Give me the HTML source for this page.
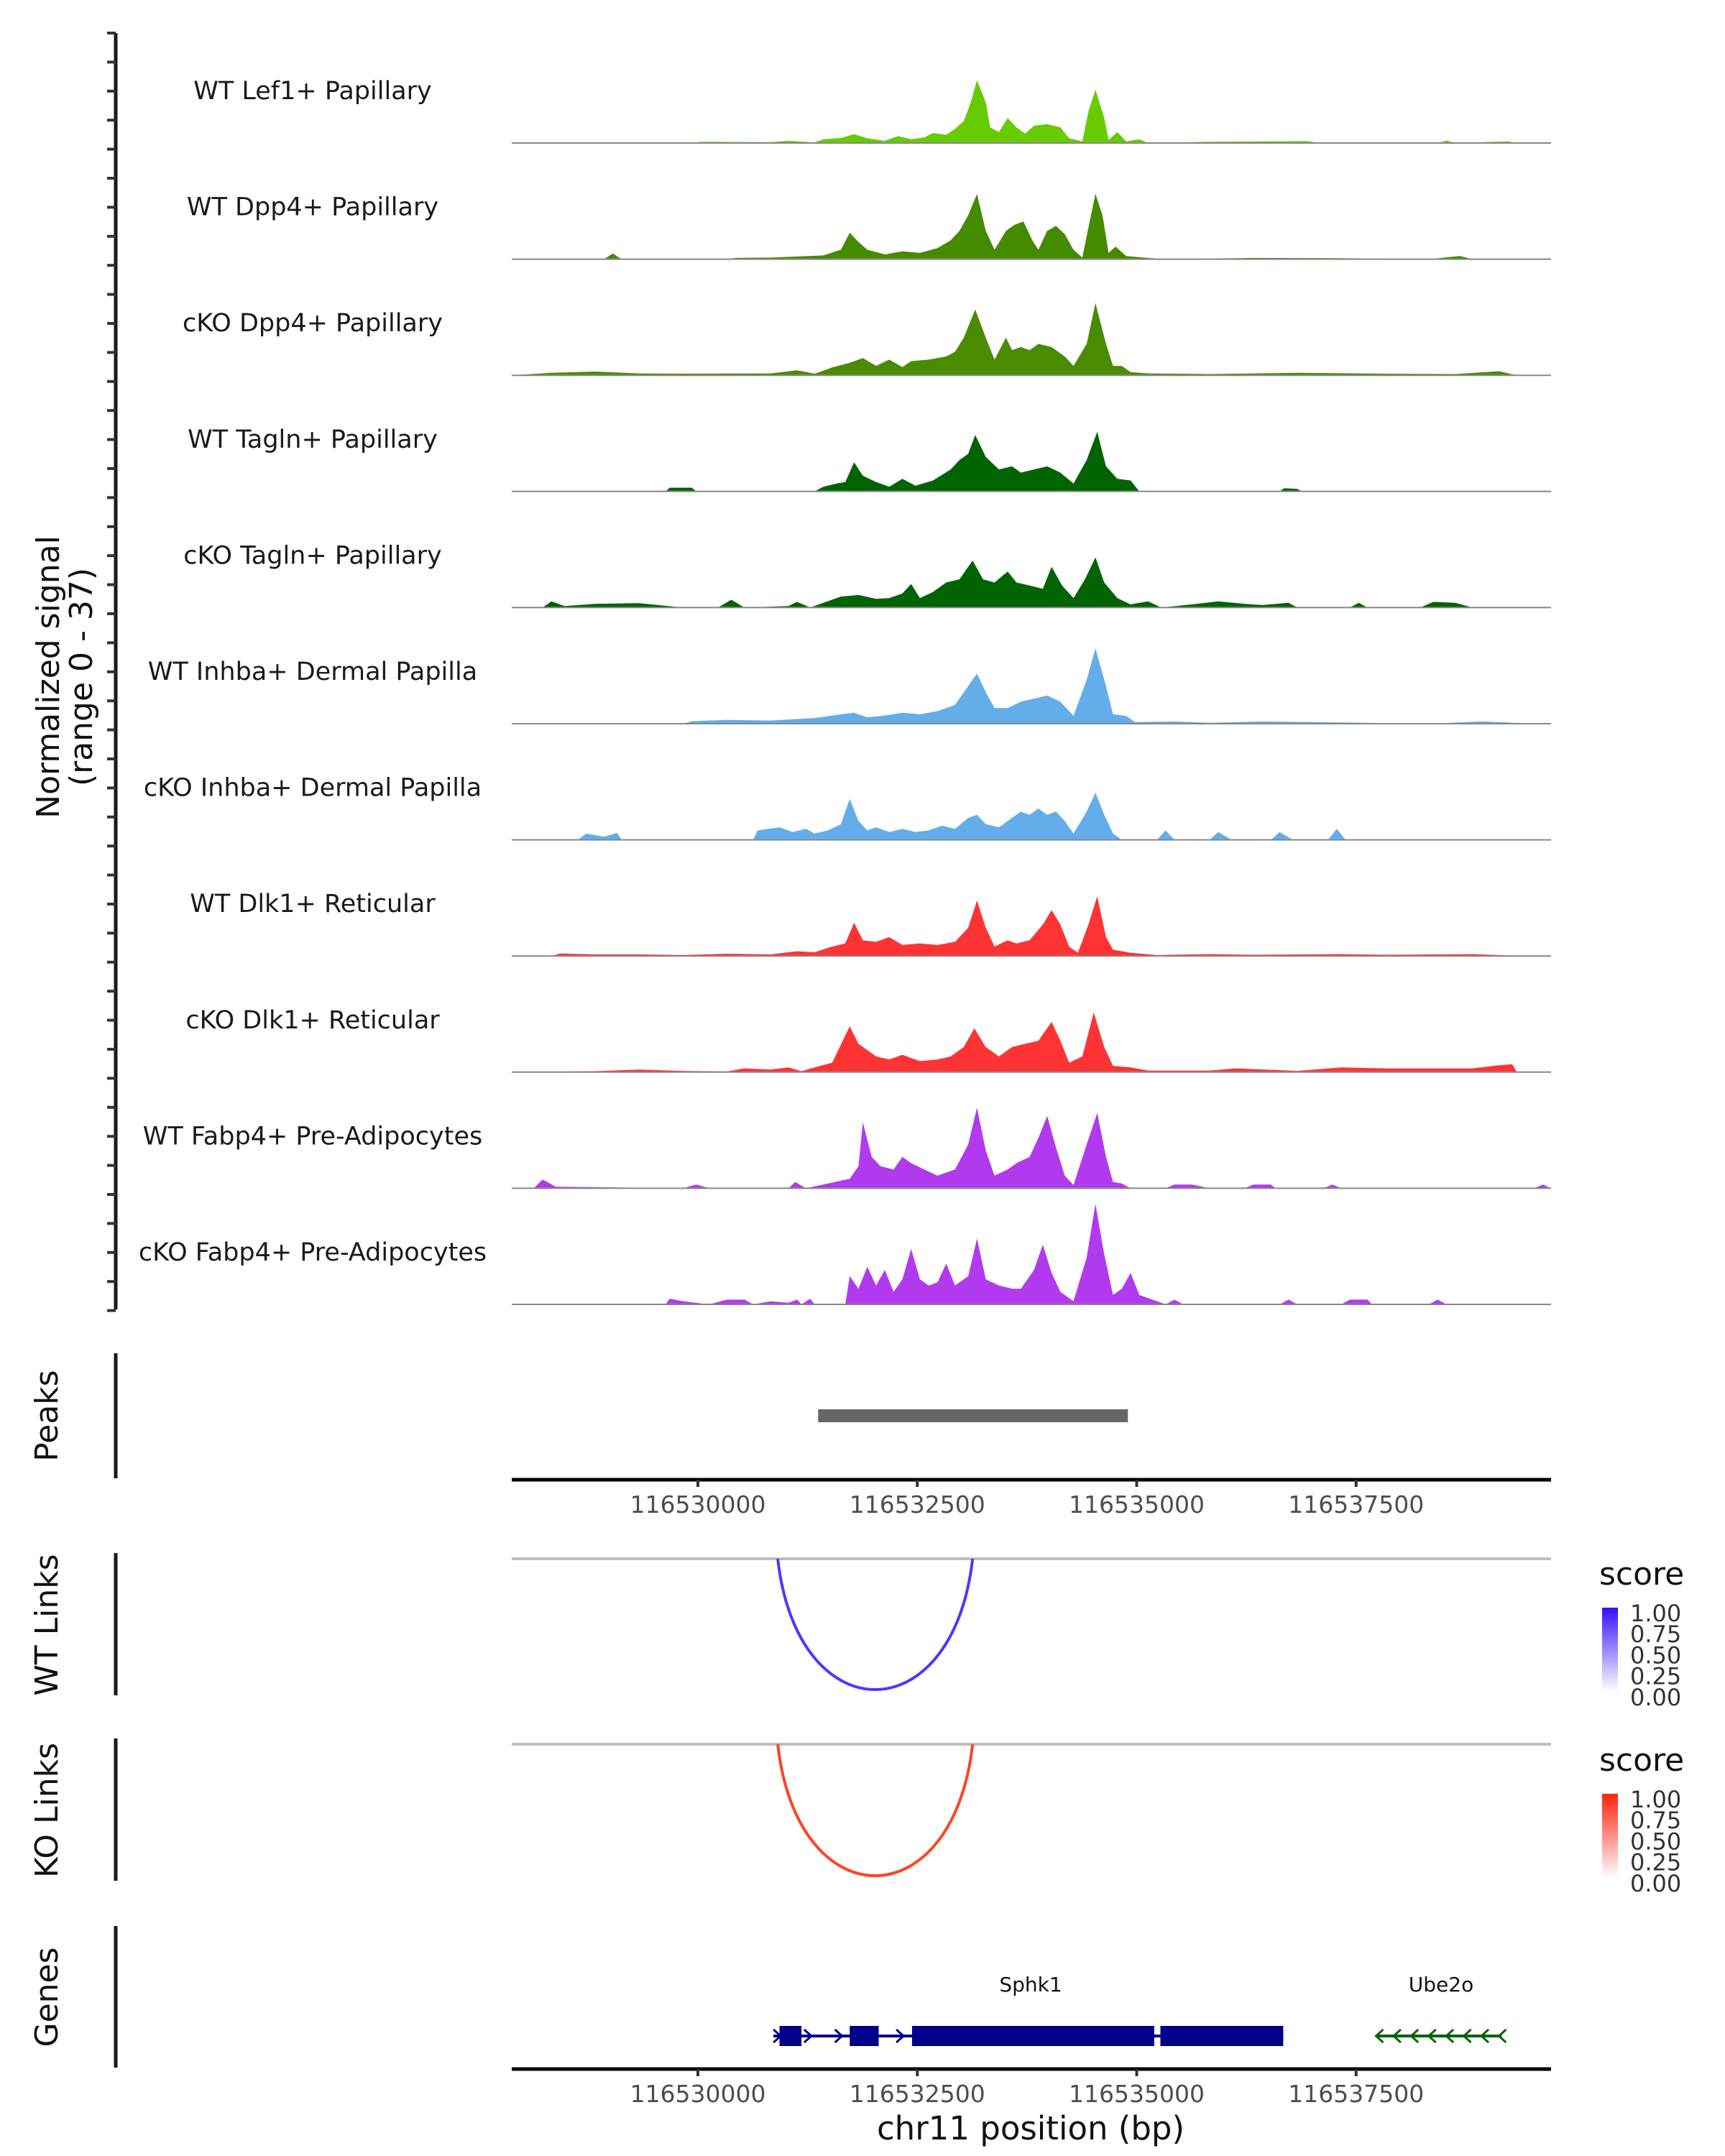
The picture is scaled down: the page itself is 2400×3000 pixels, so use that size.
<!DOCTYPE html>
<html><head><meta charset="utf-8"><style>
html,body{margin:0;padding:0;background:#fff}
svg{display:block}
text{font-family:"DejaVu Sans","Liberation Sans",sans-serif}
</style></head><body>
<svg id="chart" width="2400" height="3000" viewBox="0 0 2400 3000" xmlns="http://www.w3.org/2000/svg">
<defs>
<linearGradient id="gWT" x1="0" y1="1" x2="0" y2="0"><stop offset="0" stop-color="#ffffff"/><stop offset="1" stop-color="#3311ff"/></linearGradient>
<linearGradient id="gKO" x1="0" y1="1" x2="0" y2="0"><stop offset="0" stop-color="#ffffff"/><stop offset="1" stop-color="#ff2211"/></linearGradient>
</defs>
<g id="tracks"></g>
<g id="lower"></g>
</svg>
<script>
// ===== data (positions in kb offset from 116,530,000; signal values 0-37) =====
const trackNames = ["WT Lef1+ Papillary","WT Dpp4+ Papillary","cKO Dpp4+ Papillary","WT Tagln+ Papillary","cKO Tagln+ Papillary","WT Inhba+ Dermal Papilla","cKO Inhba+ Dermal Papilla","WT Dlk1+ Reticular","cKO Dlk1+ Reticular","WT Fabp4+ Pre-Adipocytes","cKO Fabp4+ Pre-Adipocytes"];
const trackColors = ["#66cc00","#458b00","#4a8c00","#006400","#006400","#63aeea","#63aeea","#ff3333","#ff3333","#b23aee","#b23aee"];
const sigMax = 37;
const t0 = [[-2.17,0],[-0.07,0],[0.03,0.4],[0.83,0.3],[1.03,0.7],[1.33,0.2],[1.43,1.2],[1.63,1.6],[1.78,2.8],[1.93,1.5],[2.13,0.7],[2.28,2.2],[2.43,1.2],[2.58,1.8],[2.68,3.2],[2.83,2.6],[2.93,4.5],[3.03,7],[3.11,13],[3.18,20],[3.28,13],[3.33,5],[3.43,3.5],[3.53,8],[3.63,5],[3.73,3],[3.83,5.5],[3.98,6],[4.13,5],[4.23,1.5],[4.38,0.5],[4.45,10],[4.53,17],[4.63,8],[4.68,1],[4.78,3.5],[4.88,0.5],[5.03,1.2],[5.13,0],[5.83,0.4],[6.93,0.6],[7.13,0],[8.43,0],[8.53,0.8],[8.63,0],[9.23,0.5],[9.33,0]];
const t1 = [[-2.17,0],[-1.07,0],[-0.97,1.8],[-0.87,0],[0.33,0],[0.43,0.4],[0.83,0.5],[1.43,1.2],[1.63,3],[1.73,8.4],[1.83,5.5],[1.93,3],[2.13,1.5],[2.33,2.5],[2.53,2],[2.73,3.5],[2.88,6],[2.98,9],[3.08,14],[3.18,20.8],[3.28,9],[3.38,3],[3.51,9],[3.61,11],[3.71,12],[3.81,6],[3.88,3],[3.98,9],[4.08,10.6],[4.18,8],[4.28,3],[4.38,0.5],[4.45,10],[4.53,20.8],[4.61,14],[4.68,2],[4.76,4],[4.88,1],[5.13,0.4],[5.33,0],[6.33,0.4],[7.33,0.3],[8.33,0],[8.68,1],[8.83,0]];
const t2 = [[-2.17,0],[-1.67,0.8],[-1.17,1.2],[-0.67,0.6],[-0.17,0.5],[0.83,0.6],[1.13,1.6],[1.33,0.5],[1.53,2.5],[1.73,4],[1.88,5.5],[2.03,3],[2.18,5],[2.33,2.6],[2.43,4.5],[2.63,5],[2.83,6],[2.93,7.5],[3.03,12],[3.16,21],[3.28,12],[3.38,5],[3.51,12],[3.58,8],[3.68,9],[3.78,8],[3.88,10],[4.03,9],[4.18,6],[4.28,3],[4.43,10],[4.53,23],[4.65,10],[4.73,3],[4.83,3],[4.93,1],[5.13,0.6],[5.83,0.4],[6.83,0.8],[7.83,0.5],[8.63,0.4],[9.13,1.3],[9.33,0]];
const t3 = [[-2.17,0],[-0.37,0],[-0.32,1.2],[-0.07,1.2],[-0.02,0],[1.33,0],[1.43,1.5],[1.58,2.5],[1.68,3],[1.78,9.3],[1.88,5],[2.03,3],[2.18,1.5],[2.33,4],[2.48,1.8],[2.68,3.5],[2.88,7],[2.98,10],[3.08,12],[3.16,18],[3.28,11],[3.43,7],[3.58,8],[3.68,6],[3.83,7],[3.98,8],[4.13,6],[4.28,2.5],[4.43,10],[4.55,19],[4.65,8],[4.78,4],[4.93,3.5],[5.03,0],[6.63,0],[6.68,1],[6.83,0.8],[6.88,0]];
const t4 = [[-2.17,0],[-1.77,0],[-1.67,2],[-1.52,0.5],[-1.17,1.2],[-0.67,1.4],[-0.17,0],[0.23,0],[0.38,2.5],[0.53,0],[1.03,0.5],[1.13,1.8],[1.28,0],[1.43,1.5],[1.63,3.5],[1.83,4],[2.03,2.8],[2.18,3],[2.33,4.5],[2.43,7.5],[2.53,3],[2.68,5],[2.83,8],[2.98,9],[3.13,15],[3.25,9],[3.38,8],[3.53,11.5],[3.63,8],[3.78,7],[3.93,6],[4.03,13],[4.15,7],[4.28,3],[4.41,9],[4.53,16],[4.63,8],[4.78,3],[4.93,1],[5.13,2],[5.28,0],[5.63,1],[5.93,2],[6.23,1.2],[6.43,0.8],[6.73,1.5],[6.83,0],[7.43,0],[7.53,1.5],[7.63,0],[8.23,0],[8.38,1.8],[8.63,1.5],[8.83,0]];
const t5 = [[-2.17,0],[-0.17,0],[-0.07,0.8],[0.33,1.2],[0.83,1],[1.33,1.8],[1.63,3],[1.78,3.5],[1.93,2],[2.13,2.6],[2.33,3.5],[2.53,3],[2.73,4],[2.93,6],[3.03,10],[3.18,16],[3.28,10],[3.38,5],[3.53,5],[3.68,7],[3.83,8],[3.98,9],[4.13,7],[4.28,2.5],[4.43,14],[4.53,24],[4.65,12],[4.73,3],[4.88,2.5],[4.98,0.5],[5.43,0.7],[5.83,0.3],[6.43,0.7],[7.33,0.4],[8.33,0],[8.93,0.7],[9.23,0.4],[9.43,0]];
const t6 = [[-2.17,0],[-1.37,0],[-1.27,2],[-1.07,1],[-0.92,2.2],[-0.87,0],[0.63,0],[0.68,3],[0.93,4],[1.08,2.5],[1.23,3.5],[1.33,2],[1.48,3],[1.63,5],[1.73,13],[1.83,6],[1.93,3],[2.03,4],[2.18,2.5],[2.33,3.5],[2.48,2.5],[2.63,3],[2.78,4.5],[2.93,3.5],[3.08,7],[3.18,8],[3.28,5],[3.43,4],[3.58,7],[3.68,9],[3.78,8],[3.88,10],[3.98,8],[4.08,9],[4.18,6],[4.28,2],[4.43,9],[4.53,15],[4.63,8],[4.73,2],[4.83,0],[5.23,0],[5.33,3],[5.43,0],[5.83,0],[5.93,2.5],[6.08,0],[6.53,0],[6.63,2.5],[6.78,0],[7.18,0],[7.28,3.5],[7.38,0],[9.83,0]];
const t7 = [[-2.17,0],[-1.67,0],[-1.57,0.8],[-1.17,0.5],[-0.67,0.5],[-0.17,0.3],[0.33,0.7],[0.83,0.5],[1.13,1.5],[1.33,1.2],[1.53,3],[1.68,4],[1.78,10.6],[1.88,5],[2.03,4.5],[2.18,6],[2.33,3.5],[2.53,4],[2.73,3.5],[2.93,4.5],[3.08,9],[3.18,17.7],[3.28,9],[3.38,3],[3.53,5],[3.63,4],[3.78,5],[3.93,10],[4.03,14.6],[4.13,10],[4.23,3],[4.33,1],[4.45,10],[4.55,19],[4.65,6],[4.73,2],[4.93,1],[5.23,0.3],[5.83,0.6],[6.33,0.4],[7.33,0.6],[7.83,0.4],[8.83,0.6],[9.43,0]];
const t8 = [[-2.17,0],[-1.17,0.3],[-0.67,0.8],[-0.17,0.4],[0.33,0.2],[0.53,1.2],[0.83,0.8],[1.03,1.5],[1.18,0.3],[1.33,1.5],[1.53,3],[1.73,14.6],[1.83,9],[1.93,7],[2.03,5],[2.18,4],[2.33,5.5],[2.53,3.5],[2.73,4],[2.88,5],[3.03,8],[3.15,14],[3.28,8],[3.43,5],[3.58,8],[3.73,9],[3.88,10],[4.03,16],[4.13,10],[4.23,3],[4.38,5],[4.51,19],[4.63,8],[4.73,2],[4.93,1.5],[5.13,0.5],[5.83,0.5],[6.13,1.2],[6.83,0.4],[7.33,1.5],[7.83,1.2],[8.33,1.2],[8.83,1.2],[9.13,2.2],[9.28,2.5],[9.33,0]];
const t9 = [[-2.17,0],[-1.87,0],[-1.77,2.8],[-1.62,0.5],[-0.17,0],[-0.02,1.2],[0.13,0],[1.03,0],[1.11,2],[1.23,0],[1.73,3],[1.83,7],[1.88,21],[1.98,10],[2.08,7],[2.23,6],[2.33,10],[2.43,8],[2.58,6],[2.73,4],[2.93,6],[3.08,14],[3.18,25.7],[3.28,12],[3.38,4],[3.53,6],[3.63,8],[3.78,10],[3.88,16],[3.98,23],[4.08,13],[4.18,4],[4.28,1],[4.43,14],[4.55,24],[4.65,10],[4.73,2],[4.83,1.5],[4.93,0],[5.33,0],[5.43,1.2],[5.63,1.2],[5.83,0],[6.23,0],[6.33,1.2],[6.53,1.2],[6.58,0],[7.13,0],[7.23,1.2],[7.33,0],[9.53,0],[9.63,1.2],[9.73,0]];
const t10 = [[-2.17,0],[-0.37,0],[-0.32,1.8],[-0.17,1],[0.13,0],[0.33,1.5],[0.53,1.5],[0.63,0],[0.83,1],[1.03,0.5],[1.13,1.5],[1.18,0],[1.28,1.8],[1.33,0],[1.68,0],[1.73,9],[1.83,5],[1.93,12],[2.03,6],[2.13,11],[2.23,4],[2.33,8],[2.43,17.7],[2.53,8],[2.63,6],[2.73,7],[2.83,13],[2.93,6],[3.08,9],[3.18,21],[3.28,8],[3.43,6],[3.58,5],[3.68,5],[3.83,11],[3.93,19],[4.03,10],[4.13,4],[4.28,1],[4.43,15],[4.53,32],[4.63,16],[4.73,3],[4.83,5],[4.93,10],[5.03,3],[5.13,2],[5.23,1],[5.33,0],[5.43,1.5],[5.53,0],[6.63,0],[6.73,1.5],[6.83,0],[7.33,0],[7.43,1.5],[7.63,1.5],[7.68,0],[8.33,0],[8.43,1.5],[8.53,0],[9.83,0]];
const allTracks = [t0,t1,t2,t3,t4,t5,t6,t7,t8,t9,t10];
const xTicks = [0, 2.5, 5.0, 7.5];
const xTickLabels = ["116530000","116532500","116535000","116537500"];
const peakStarts = [1.37];
const peakEnds = [4.90];
const wtLinkStart = [0.91], wtLinkEnd = [3.13], wtLinkScore = [0.85];
const koLinkStart = [0.91], koLinkEnd = [3.13], koLinkScore = [0.85];
const legendTicks = ["1.00","0.75","0.50","0.25","0.00"];
const sphk1Exons = [[0.93,1.18],[1.73,2.06],[2.44,5.20],[5.27,6.67]];
const sphk1Span = [0.86, 6.67];
const ube2oSpan = [7.74, 9.16];

// ===== scales =====
const NS="http://www.w3.org/2000/svg";
const X0=712, X1=2158;
const xs = kb => 971 + kb*122.1;
const baseY = i => 199 + i*161.6;
const ys = (i,v) => baseY(i) - v*(161.6/sigMax);
function el(tag, attrs, parent, text){const e=document.createElementNS(NS,tag);for(const k in attrs)e.setAttribute(k,attrs[k]);if(text!==undefined)e.textContent=text;parent.appendChild(e);return e;}

const tg=document.getElementById('tracks');
let ax=el('line',{x1:161,y1:46,x2:161,y2:1822,stroke:'#1a1a1a','stroke-width':5},tg);


for(let k=0;k<=44;k++){
  const y=46+k*40.4;
  let t=el('line',{x1:149,y1:y,x2:161,y2:y,stroke:'#333','stroke-width':4},tg);
  
  
}
let yt=el('text',{transform:'translate(82,942) rotate(-90)','text-anchor':'middle','font-size':44,fill:'#111'},tg,'Normalized signal');


let yt2=el('text',{transform:'translate(128,942) rotate(-90)','text-anchor':'middle','font-size':44,fill:'#111'},tg,'(range 0 - 37)');



allTracks.forEach((tr,i)=>{
  const cx = v => Math.min(X1,Math.max(X0,xs(v)));
  let pts=[[cx(tr[0][0]),baseY(i)]];
  tr.forEach(p=>{pts.push([cx(p[0]),ys(i,p[1])]);});
  pts.push([cx(tr[tr.length-1][0]),baseY(i)]);
  let a=el('polygon',{points:pts.map(p=>p[0].toFixed(1)+','+p[1].toFixed(1)).join(' '),fill:trackColors[i]},tg);
  
  
  let b=el('line',{x1:X0,y1:baseY(i),x2:X1,y2:baseY(i),stroke:'#888','stroke-width':2},tg);
  
  
  let l=el('text',{x:435,y:baseY(i)-71,'text-anchor':'middle','dominant-baseline':'middle','font-size':35,fill:'#1a1a1a'},tg,trackNames[i]);
  
  
});

const lg=document.getElementById('lower');
function vAxis(y1,y2,label,cy,name){
  let l=el('line',{x1:161,y1:y1,x2:161,y2:y2,stroke:'#1a1a1a','stroke-width':5},lg);
  
  
  let t=el('text',{transform:`translate(80,${cy}) rotate(-90)`,'text-anchor':'middle','font-size':44,fill:'#111'},lg,label);
  
  
}
function xAxis(y,name){
  let l=el('line',{x1:X0,y1:y,x2:X1,y2:y,stroke:'#000','stroke-width':5},lg);
  
  
  xTicks.forEach((v,j)=>{
    let t=el('line',{x1:xs(v),y1:y,x2:xs(v),y2:y+10,stroke:'#333','stroke-width':4},lg);
    
    
    let tx=el('text',{x:xs(v),y:y+46,'text-anchor':'middle','font-size':33,fill:'#4d4d4d'},lg,xTickLabels[j]);
    
    
  });
}
vAxis(1883,2057,'Peaks',1970,'peaks');
peakStarts.forEach((s,j)=>{
  let r=el('rect',{x:xs(s),y:1961,width:xs(peakEnds[j])-xs(s),height:18,fill:'#666'},lg);
  
  
});
xAxis(2059,'peaks');

function links(name,gy,depth,starts,ends,scores,col,grad,legY){
  vAxis(gy-8,gy+190,name==='wt'?'WT Links':'KO Links',gy+92,name+'-links');
  let g=el('line',{x1:X0,y1:gy,x2:X1,y2:gy,stroke:'#bdbdbd','stroke-width':4},lg);
  
  
  starts.forEach((s,j)=>{
    const a=xs(s), b=xs(ends[j]), w=b-a;
    const c=gy+depth/0.75;
    let p=el('path',{d:`M${a},${gy} C${a+w*0.1},${c} ${b-w*0.1},${c} ${b},${gy}`,fill:'none',stroke:col,'stroke-width':4},lg);
    
    
  });
  let st=el('text',{x:2225,y:legY,'font-size':44,fill:'#111'},lg,'score');
  
  
  let cb=el('rect',{x:2229,y:legY+32,width:22,height:117,fill:`url(#${grad})`},lg);
  
  
  legendTicks.forEach((t,j)=>{
    let tx=el('text',{x:2268,y:legY+42+j*29.2,'font-size':32,fill:'#333','dominant-baseline':'middle'},lg,t);
    
    
  });
}
links('wt',2169,182,wtLinkStart,wtLinkEnd,wtLinkScore,'#5533ff','gWT',2205);
links('ko',2427,183,koLinkStart,koLinkEnd,koLinkScore,'#ff4422','gKO',2464);

vAxis(2680,2877,'Genes',2779,'genes');
const gy=2833;
let gl=el('line',{x1:xs(sphk1Span[0]),y1:gy,x2:xs(sphk1Span[1]),y2:gy,stroke:'#00008b','stroke-width':4},lg);


for(let k=sphk1Span[0]+0.05;k<sphk1Span[1];k+=0.35){
  let ar=el('path',{d:`M${xs(k)-6},${gy-9} L${xs(k)+4},${gy} L${xs(k)-6},${gy+9}`,fill:'none',stroke:'#00008b','stroke-width':3},lg);
  
  
}
sphk1Exons.forEach(e=>{
  let r=el('rect',{x:xs(e[0]),y:gy-14,width:xs(e[1])-xs(e[0]),height:28,fill:'#00008b'},lg);
  
  
});
let sl=el('text',{x:1434,y:2771,'text-anchor':'middle','font-size':28,fill:'#111'},lg,'Sphk1');


let ul=el('line',{x1:xs(ube2oSpan[0]),y1:gy,x2:xs(ube2oSpan[1]),y2:gy,stroke:'#006400','stroke-width':4},lg);


for(let k=ube2oSpan[0]+0.02;k<ube2oSpan[1];k+=0.2){
  let ar=el('path',{d:`M${xs(k)+6},${gy-9} L${xs(k)-4},${gy} L${xs(k)+6},${gy+9}`,fill:'none',stroke:'#006400','stroke-width':3},lg);
  
  
}
let ubl=el('text',{x:2005,y:2771,'text-anchor':'middle','font-size':28,fill:'#111'},lg,'Ube2o');


xAxis(2879,'genes');
let xt=el('text',{x:1434,y:2977,'text-anchor':'middle','font-size':45,fill:'#111'},lg,'chr11 position (bp)');


</script>
</body></html>
